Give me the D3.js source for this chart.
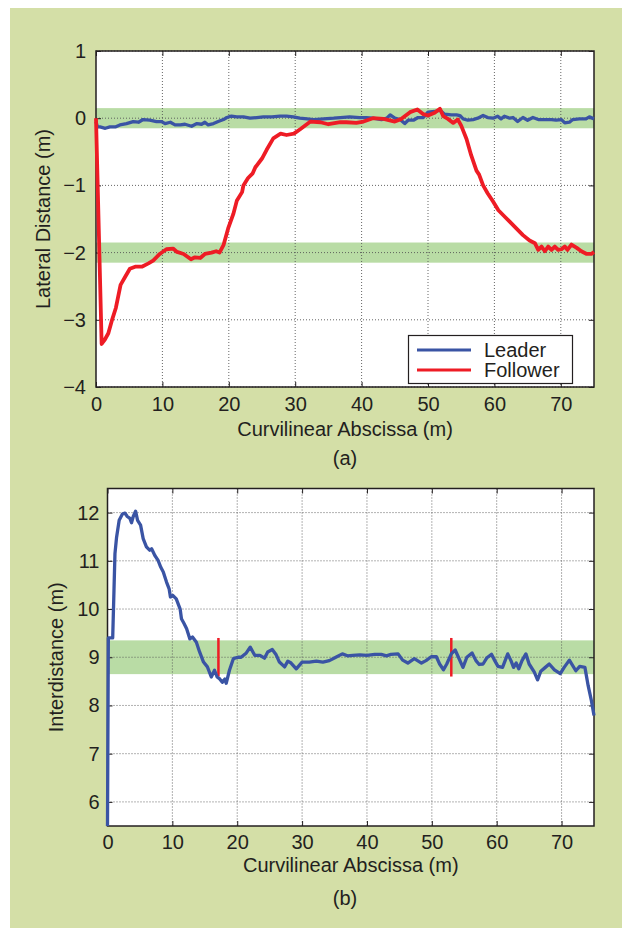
<!DOCTYPE html>
<html>
<head>
<meta charset="utf-8">
<script src="https://d3js.org/d3.v7.min.js"></script>
<style>
body { margin: 0; background: #ffffff; }
svg text { font-family: "Liberation Sans", Arial, sans-serif; fill: #231f20; }
</style>
</head>
<body>
<svg id="viz" width="632" height="936"></svg>
<script>
// ---- data ----
var leader = [[0,-0.05],[0.2,-0.13],[0.6,-0.13],[1.4,-0.15],[2.1,-0.13],[2.9,-0.13],[3.6,-0.10],[4.6,-0.08],[5.6,-0.05],[6.4,-0.06],[7.1,-0.02],[8.1,-0.03],[9.1,-0.05],[9.9,-0.05],[10.4,-0.08],[11.2,-0.06],[11.9,-0.10],[12.7,-0.10],[13.4,-0.09],[14.4,-0.12],[15.2,-0.08],[15.9,-0.09],[16.4,-0.06],[16.9,-0.10],[17.7,-0.08],[18.4,-0.05],[19.2,-0.02],[19.7,0.01],[20.4,0.03],[21.2,0.02],[22.2,0.02],[23.2,0.00],[24.2,0.01],[25.2,0.02],[26.5,0.02],[27.7,0.03],[28.7,0.03],[29.7,0.02],[30.7,0],[31.8,-0.01],[32.8,-0.02],[34.3,-0.01],[35.8,0],[36.8,0.01],[38.2,0.02],[39.7,0.01],[40.7,0.01],[41.7,0],[43.0,-0.02],[43.8,0],[44.3,0.05],[45.0,0],[45.8,-0.02],[46.5,-0.08],[47.0,-0.03],[47.8,-0.03],[48.5,0.01],[49.3,0.01],[50.0,0.09],[51.0,0.10],[51.8,0.12],[52.5,0.06],[53.5,0.05],[54.3,0.05],[54.8,0.04],[55.3,-0.01],[56.0,-0.03],[56.8,-0.02],[57.5,0],[58.3,0.04],[59.0,0.01],[59.8,0],[60.5,0.03],[61.0,-0.01],[61.5,0.03],[62.3,0],[62.8,0.01],[63.5,-0.05],[64.3,0.01],[65.0,-0.03],[65.8,0.01],[66.6,-0.02],[67.6,-0.02],[68.6,-0.02],[69.3,-0.03],[70.1,-0.02],[70.6,-0.07],[71.3,-0.06],[71.8,-0.02],[72.8,-0.01],[73.8,-0.01],[74.3,0.02],[75,-0.01]];

var follower = [[0,0],[0.85,-3.36],[1.36,-3.29],[1.86,-3.2],[2.36,-3.02],[3.0,-2.82],[3.7,-2.48],[4.4,-2.36],[5.1,-2.24],[5.9,-2.21],[6.9,-2.21],[7.9,-2.16],[8.6,-2.12],[9.6,-2.02],[10.6,-1.95],[11.6,-1.94],[12.2,-1.99],[13.2,-2.02],[14.3,-2.1],[14.9,-2.07],[15.7,-2.08],[16.4,-2.02],[17.4,-2.0],[18.1,-1.98],[18.6,-2.0],[19.2,-1.89],[19.9,-1.64],[20.7,-1.42],[21.2,-1.23],[22.0,-1.1],[22.2,-1.0],[22.9,-0.89],[23.6,-0.82],[24.0,-0.73],[25.0,-0.6],[25.7,-0.47],[26.7,-0.30],[27.8,-0.23],[28.7,-0.25],[29.8,-0.23],[30.8,-0.16],[32.3,-0.05],[33.8,-0.06],[35.0,-0.09],[36.8,-0.06],[37.7,-0.06],[39.2,-0.07],[40.3,-0.05],[41.7,0],[43.3,-0.01],[45.0,-0.05],[46.0,-0.01],[47.3,0.09],[48.4,0.13],[49.3,0.06],[50.0,0.04],[51.0,0.08],[51.8,0.14],[52.3,0.03],[53.0,-0.01],[53.8,-0.07],[54.5,-0.02],[55.0,-0.11],[55.8,-0.31],[56.5,-0.55],[57.3,-0.78],[57.7,-0.84],[58.3,-1.0],[59.0,-1.12],[59.8,-1.24],[60.6,-1.37],[61.6,-1.47],[62.3,-1.54],[63.3,-1.64],[64.3,-1.74],[65.3,-1.82],[66.1,-1.86],[66.6,-1.96],[67.1,-1.91],[67.6,-1.98],[68.1,-1.91],[68.6,-1.96],[69.1,-1.91],[69.6,-1.96],[70.1,-1.95],[70.6,-1.91],[71.0,-1.96],[71.6,-1.88],[72.4,-1.93],[73.1,-1.98],[73.9,-2.02],[74.6,-2.02],[75,-1.99]];

var interdistance = [[0,5.5],[0.13,9.40],[0.8,9.40],[1.0,10.39],[1.15,11.15],[1.4,11.49],[1.8,11.84],[2.3,11.97],[2.7,11.99],[3.05,11.92],[3.46,11.88],[3.7,11.79],[3.97,11.92],[4.33,12.03],[4.64,11.84],[5.1,11.74],[5.5,11.46],[6.0,11.29],[6.5,11.22],[6.8,11.25],[7.3,11.11],[7.8,11.01],[8.2,10.87],[8.6,10.77],[9.1,10.56],[9.5,10.42],[9.7,10.25],[10.1,10.28],[10.6,10.21],[11.2,10.0],[11.4,9.80],[11.8,9.70],[12.2,9.59],[12.7,9.38],[13.1,9.42],[13.7,9.31],[14.2,9.11],[14.8,8.90],[15.4,8.80],[16.0,8.59],[16.5,8.73],[16.9,8.59],[17.3,8.55],[17.7,8.48],[18.1,8.55],[18.3,8.46],[18.8,8.73],[19.4,8.97],[20.1,9.0],[20.6,9.0],[21.4,9.09],[22.0,9.21],[22.7,9.04],[23.5,9.04],[24.2,8.98],[24.7,9.11],[25.4,9.16],[26.0,9.05],[26.5,8.90],[27.3,8.80],[27.8,8.92],[28.3,8.88],[29.1,8.76],[30.0,8.90],[31.1,8.90],[32.2,8.92],[33.2,8.90],[34.2,8.93],[35.2,9.0],[36.2,9.07],[37.0,9.03],[37.8,9.04],[38.9,9.05],[40.0,9.04],[41.2,9.06],[42.2,9.06],[43.0,9.03],[43.7,9.06],[44.8,9.07],[45.5,8.94],[46.3,8.88],[47.3,8.97],[48.4,8.88],[49.1,8.93],[49.9,9.01],[50.7,9.01],[51.2,8.86],[51.8,8.74],[52.3,8.86],[53.0,9.07],[53.6,9.15],[54.1,9.0],[54.8,8.79],[55.4,9.0],[56.2,9.09],[56.8,8.93],[57.3,8.85],[57.9,8.86],[58.5,8.99],[59.2,9.06],[59.7,8.93],[60.2,8.81],[60.9,8.79],[61.7,9.07],[62.2,8.93],[62.6,8.79],[63.0,8.88],[63.4,8.76],[63.9,8.93],[64.5,9.07],[65.0,8.86],[65.8,8.69],[66.3,8.53],[66.8,8.71],[67.5,8.79],[68.1,8.86],[68.9,8.74],[69.8,8.66],[70.4,8.79],[71.2,8.94],[72.2,8.72],[72.8,8.81],[73.6,8.79],[74.1,8.41],[74.6,8.10],[75,7.79]];

var xTicks = [0, 10, 20, 30, 40, 50, 60, 70];
var yTicksTop = [1, 0, -1, -2, -3, -4];
var yTicksBottom = [6, 7, 8, 9, 10, 11, 12];
var bandsTop = [0, -2];
var bandsBottom = [9];
var markerX = [17.1, 53];
var seriesNames = ["Leader", "Follower"];

var blue = "#3a54a4", red = "#ee1c25", band = "#b9dca5";
var fs = "20px";
var svg = d3.select("#viz");

svg.append("rect").attr("x", 10).attr("y", 8).attr("width", 612).attr("height", 920).attr("fill", "#d4dfa7");

function drawPanel(opt) {
	var x = d3.scaleLinear().domain([0, 75]).range([opt.left, 594]);
	var y = d3.scaleLinear().domain(opt.ydom).range([opt.bottom, opt.top]);
	var g = svg.append("g");
	g.append("rect").attr("x", opt.left).attr("y", opt.top).attr("width", 594 - opt.left).attr("height", opt.bottom - opt.top).attr("fill", "#ffffff");

	opt.bands.forEach(function (b) {
		g.append("rect").attr("x", x(0)).attr("width", x(75) - x(0))
			.attr("y", y(b + opt.half)).attr("height", y(b - opt.half) - y(b + opt.half))
			.attr("fill", band);
	});

	// dotted grid
	g.selectAll(".gx").data(xTicks.slice(1)).enter().append("line")
		.attr("x1", function (d) { return x(d); }).attr("x2", function (d) { return x(d); })
		.attr("y1", opt.top).attr("y2", opt.bottom)
		.attr("stroke", "#555").attr("stroke-width", 0.9).attr("stroke-dasharray", "1,2");
	g.selectAll(".gy").data(opt.yticks).enter().append("line")
		.attr("y1", function (d) { return y(d); }).attr("y2", function (d) { return y(d); })
		.attr("x1", opt.left).attr("x2", 594)
		.attr("stroke", "#555").attr("stroke-width", 0.9).attr("stroke-dasharray", "1,2");

	// axes with inward ticks on all four sides
	var ax = [
		[d3.axisBottom(x).tickValues(xTicks).tickSizeInner(-5).tickSizeOuter(0).tickPadding(opt.xpad), "translate(0," + opt.bottom + ")", true],
		[d3.axisTop(x).tickValues(xTicks).tickSizeInner(-5).tickSizeOuter(0), "translate(0," + opt.top + ")", false],
		[d3.axisLeft(y).tickValues(opt.yticks).tickSizeInner(-5).tickSizeOuter(0).tickPadding(opt.ypad).tickFormat(function (d) { return d < 0 ? "\u2212" + (-d) : d; }), "translate(" + opt.left + ",0)", true],
		[d3.axisRight(y).tickValues(opt.yticks).tickSizeInner(-5).tickSizeOuter(0), "translate(594,0)", false]
	];
	ax.forEach(function (a) {
		var ag = g.append("g").attr("transform", a[1]).call(a[0]);
		ag.select(".domain").remove();
		ag.selectAll(".tick line").attr("stroke", "#231f20").attr("stroke-width", 1);
		ag.selectAll("text").style("font-size", fs).attr("fill", "#231f20");
		if (!a[2]) ag.selectAll("text").remove();
	});

	g.append("rect").attr("x", opt.left).attr("y", opt.top).attr("width", 594 - opt.left).attr("height", opt.bottom - opt.top)
		.attr("fill", "none").attr("stroke", "#231f20").attr("stroke-width", 1.5);

	g.append("text").attr("x", (opt.left + 594) / 2).attr("y", opt.bottom + opt.labDy).attr("text-anchor", "middle")
		.style("font-size", fs).text("Curvilinear Abscissa (m)");
	g.append("text").attr("transform", "translate(" + opt.ylabX + "," + ((opt.top + opt.bottom) / 2) + ")rotate(-90)")
		.attr("text-anchor", "middle").style("font-size", fs).text(opt.ylabel);
	g.append("text").attr("x", 345).attr("y", opt.bottom + opt.capDy).attr("text-anchor", "middle")
		.style("font-size", fs).text(opt.caption);

	return {x: x, y: y, g: g};
}

var line = function (p) {
	return d3.line().x(function (d) { return p.x(d[0]); }).y(function (d) { return p.y(d[1]); });
};

// (a) lateral distance
var pa = drawPanel({left: 96, top: 51, bottom: 387, ydom: [-4, 1], yticks: yTicksTop, ypad: 10, xpad: 10,
	labDy: 49, capDy: 78,
	bands: bandsTop, half: 0.15, ylabel: "Lateral Distance (m)", ylabX: 50, caption: "(a)"});
pa.g.append("path").datum(leader).attr("d", line(pa)).attr("fill", "none")
	.attr("stroke", blue).attr("stroke-width", 3.3).attr("stroke-linejoin", "round");
pa.g.append("path").datum(follower).attr("d", line(pa)).attr("fill", "none")
	.attr("stroke", red).attr("stroke-width", 3.8).attr("stroke-linejoin", "round");

var lg = pa.g.append("g");
lg.append("rect").attr("x", 408.5).attr("y", 335.5).attr("width", 164).attr("height", 48)
	.attr("fill", "#ffffff").attr("stroke", "#231f20").attr("stroke-width", 1.2);
[blue, red].forEach(function (c, i) {
	lg.append("line").attr("x1", 417).attr("x2", 471).attr("y1", 350 + i * 20).attr("y2", 350 + i * 20)
		.attr("stroke", c).attr("stroke-width", 3);
	lg.append("text").attr("x", 484).attr("y", 357 + i * 20).style("font-size", fs).text(seriesNames[i]);
});

// (b) interdistance
var pb = drawPanel({left: 107.5, top: 488.5, bottom: 826, ydom: [5.5, 12.5], yticks: yTicksBottom, ypad: 8, xpad: 9,
	labDy: 46, capDy: 79,
	bands: bandsBottom, half: 0.35, ylabel: "Interdistance (m)", ylabX: 63, caption: "(b)"});
pb.g.selectAll(".marker").data(markerX).enter().append("line")
	.attr("x1", function (d) { return pb.x(d); }).attr("x2", function (d) { return pb.x(d); })
	.attr("y1", pb.y(9.4)).attr("y2", pb.y(8.6))
	.attr("stroke", red).attr("stroke-width", 2.5);
pb.g.append("path").datum(interdistance).attr("d", line(pb)).attr("fill", "none")
	.attr("stroke", blue).attr("stroke-width", 3.3).attr("stroke-linejoin", "round");
</script>
</body>
</html>
